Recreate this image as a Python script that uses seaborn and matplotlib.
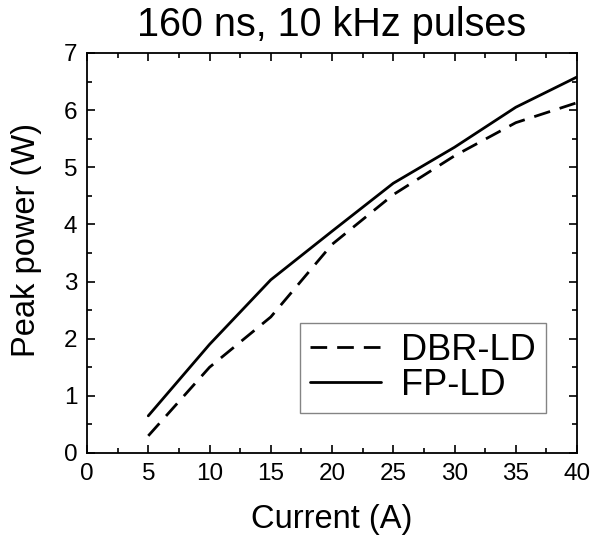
import numpy as np
import pandas as pd
import matplotlib
matplotlib.use('Agg')
import matplotlib.pyplot as plt
from matplotlib.ticker import MultipleLocator
import seaborn as sns

# data
current = [5, 10, 15, 20, 25, 30, 35, 40]
dbr_ld = [0.30, 1.50, 2.38, 3.65, 4.52, 5.20, 5.78, 6.13]
fp_ld = [0.65, 1.90, 3.03, 3.88, 4.72, 5.35, 6.05, 6.58]

df = pd.DataFrame({
    'Current (A)': current * 2,
    'Peak power (W)': dbr_ld + fp_ld,
    'Device': ['DBR-LD'] * len(current) + ['FP-LD'] * len(current),
})

sns.set_style('ticks')
plt.rcParams['font.family'] = ['Liberation Sans', 'DejaVu Sans']
for key in ['text.color', 'axes.labelcolor', 'xtick.color', 'ytick.color',
            'axes.edgecolor']:
    plt.rcParams[key] = 'black'

fig = plt.figure(figsize=(5.9, 5.41), dpi=100)
ax = fig.add_axes([0.1475, 0.1627, 0.8305, 0.7394])

sns.lineplot(data=df, x='Current (A)', y='Peak power (W)', hue='Device',
             style='Device', palette=['black', 'black'],
             dashes={'DBR-LD': (6, 3.6), 'FP-LD': ''}, linewidth=2, ax=ax)

ax.set_xlim(0, 40)
ax.set_ylim(0, 7)
ax.xaxis.set_major_locator(MultipleLocator(5))
ax.xaxis.set_minor_locator(MultipleLocator(2.5))
ax.yaxis.set_major_locator(MultipleLocator(1))
ax.yaxis.set_minor_locator(MultipleLocator(0.5))
ax.tick_params(which='both', direction='in', top=True, right=True, width=1.2)
ax.tick_params(which='major', length=6, labelsize=17.5, pad=7)
ax.tick_params(which='minor', length=3.5)
for s in ax.spines.values():
    s.set_linewidth(1.3)

ax.set_xlabel('Current (A)', fontsize=23.5, labelpad=14)
ax.set_ylabel('Peak power (W)', fontsize=23.5)
ax.yaxis.set_label_coords(-0.092, 0.5325)
ax.set_title('160 ns, 10 kHz pulses', fontsize=28.5, pad=12)

leg = ax.legend(loc='lower right', bbox_to_anchor=(0.937, 0.1),
                fontsize=26, frameon=True, fancybox=False,
                edgecolor='#666666', handlelength=1.97, handletextpad=0.55,
                borderpad=0.28, labelspacing=0.0, borderaxespad=0)
leg.get_frame().set_linewidth(1.0)
for line in leg.get_lines():
    line.set_linewidth(2)

fig.savefig('out.png', dpi=100)
